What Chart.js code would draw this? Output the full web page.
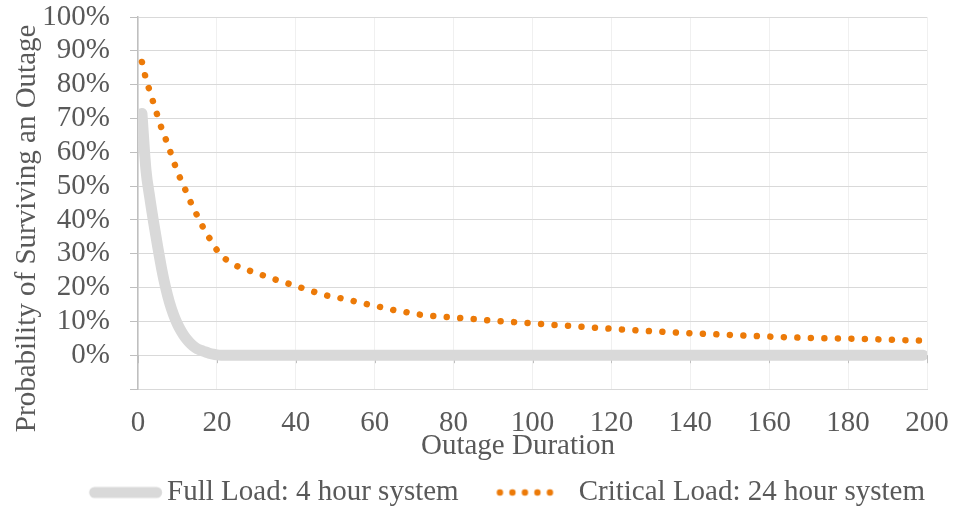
<!DOCTYPE html>
<html>
<head>
<meta charset="utf-8">
<script src="https://cdn.jsdelivr.net/npm/chart.js@4.4.1/dist/chart.umd.min.js"></script>
<style>
  html, body { margin: 0; padding: 0; background: #fff; }
  #chart { display: block; }
</style>
</head>
<body>
<canvas id="chart" width="953" height="512"></canvas>
<script>
  // values (percent)
  const fullHours = [1, 2, 3, 4, 5, 6, 7, 8, 9, 10, 11, 12, 13, 14, 15, 16, 17, 18, 19, 20, 21, 199];
  const fullLoad = [71.5, 55, 46.5, 39, 32, 25.5, 20, 15.5, 12, 9.2, 7, 5.2, 3.8, 2.7, 1.9, 1.4, 1, 0.6, 0.3, 0.1, 0, 0];

  const criticalHours = [1, 2, 3, 4, 5, 6, 7, 8, 9, 10, 11, 12, 13, 14, 15, 16, 17, 18, 19, 20,
    22, 24, 26, 28, 30, 32, 35, 38, 40, 42, 45, 48, 52, 55, 58, 62, 65, 69, 72, 76,
    80, 85, 90, 95, 100, 105, 110, 115, 120, 130, 140, 150, 160, 170, 180, 190, 199];
  const criticalLoad = [86.7, 81.8, 78, 74.3, 70.6, 67, 64, 60.8, 57.4, 54.3, 51.5, 48.9, 46.2, 43.5, 41.3, 39, 36.6, 34.8, 32.9, 31.1,
    28.6, 27, 25.9, 25.1, 24.3, 23.5, 22.3, 21.2, 20.5, 19.7, 18.6, 17.6, 16.7, 15.9, 15.1, 14.1, 13.3, 12.5, 11.9, 11.5,
    11.1, 10.7, 10.2, 9.8, 9.4, 9.0, 8.6, 8.2, 7.8, 7.1, 6.5, 6.0, 5.5, 5.1, 4.9, 4.6, 4.3];

  const seriesNames = ["Full Load: 4 hour system", "Critical Load: 24 hour system"];

  const grey = "#D9D9D9";
  const orange = "#EC7A08";
  const textColor = "#595959";
  const serif = "'Liberation Serif', 'Times New Roman', serif";

  const toPoints = (xs, ys) => xs.map((x, i) => ({ x: x, y: ys[i] }));

  // little pictures used as legend markers
  function legendSample(draw) {
    const c = document.createElement("canvas");
    c.width = 140;
    c.height = 14;
    draw(c.getContext("2d"));
    return c;
  }
  const samples = [
    legendSample(g => {
      g.strokeStyle = grey;
      g.lineWidth = 11;
      g.lineCap = "round";
      g.beginPath();
      g.moveTo(63.75, 7);
      g.lineTo(125.75, 7);
      g.stroke();
    }),
    legendSample(g => {
      g.fillStyle = orange;
      for (let i = 0; i < 5; i++) {
        g.beginPath();
        g.arc(57.5 + i * 12.5, 7, 3.2, 0, Math.PI * 2);
        g.fill();
      }
    })
  ];

  // small tick marks where the category axis crosses 0%
  const zeroTicks = {
    id: "zeroTicks",
    beforeDatasetsDraw(chart) {
      const { ctx, scales: { x, y } } = chart;
      const y0 = y.getPixelForValue(0);
      ctx.save();
      ctx.strokeStyle = "#BFBFBF";
      ctx.lineWidth = 1;
      x.ticks.forEach(t => {
        const px = Math.round(x.getPixelForValue(t.value)) + 0.5;
        ctx.beginPath();
        ctx.moveTo(px, y0);
        ctx.lineTo(px, y0 + 8);
        ctx.stroke();
      });
      ctx.restore();
    }
  };

  Chart.defaults.font.family = serif;
  Chart.defaults.font.size = 29;
  Chart.defaults.color = textColor;

  new Chart(document.getElementById("chart"), {
    type: "line",
    data: {
      datasets: [
        {
          label: seriesNames[0],
          data: toPoints(fullHours, fullLoad),
          borderColor: grey,
          borderWidth: 11,
          borderCapStyle: "round",
          borderJoinStyle: "round",
          cubicInterpolationMode: "monotone",
          pointRadius: 0,
          fill: false
        },
        {
          label: seriesNames[1],
          data: toPoints(criticalHours, criticalLoad),
          borderColor: orange,
          borderWidth: 6.5,
          borderDash: [0.01, 13.5],
          borderCapStyle: "round",
          cubicInterpolationMode: "monotone",
          pointRadius: 0,
          fill: false
        }
      ]
    },
    options: {
      responsive: false,
      animation: false,
      events: [],
      layout: { padding: { top: 0, right: 26, left: 0, bottom: -5 } },
      scales: {
        x: {
          type: "linear",
          min: 0,
          max: 200,
          ticks: { stepSize: 20, padding: 17, color: textColor, maxRotation: 0, autoSkip: false },
          grid: { color: "#F0F0F0", drawTicks: false },
          border: { color: grey },
          title: {
            display: true,
            text: "Outage Duration    ",
            color: textColor,
            padding: { top: 0, bottom: 12 }
          },
          afterFit(scale) {
            scale.height = 87;
            scale.paddingLeft = 0;
            scale.paddingRight = 0;
          }
        },
        y: {
          min: -10,
          max: 100,
          ticks: {
            stepSize: 10,
            padding: 20,
            autoSkip: false,
            color: textColor,
            callback: v => (v < 0 ? "" : v + "%")
          },
          grid: { color: grey, tickColor: "#BFBFBF", tickLength: 8 },
          border: { color: "#BFBFBF", width: 1.5 },
          title: {
            display: true,
            text: "Probability of Surviving an Outage       ",
            color: textColor,
            padding: { top: 10, bottom: 0 }
          },
          afterFit(scale) {
            scale.width = 138;
            scale.paddingTop = 17;
          }
        }
      },
      plugins: {
        tooltip: { enabled: false },
        legend: {
          position: "bottom",
          align: "end",
          labels: {
            usePointStyle: true,
            pointStyleWidth: 103.5,
            padding: 2,
            color: textColor,
            generateLabels: chart => chart.data.datasets.map((ds, i) => ({
              text: ds.label,
              pointStyle: samples[i],
              fillStyle: "transparent",
              strokeStyle: "transparent",
              lineWidth: 0,
              fontColor: textColor,
              datasetIndex: i
            }))
          }
        }
      }
    },
    plugins: [zeroTicks]
  });
</script>
</body>
</html>
